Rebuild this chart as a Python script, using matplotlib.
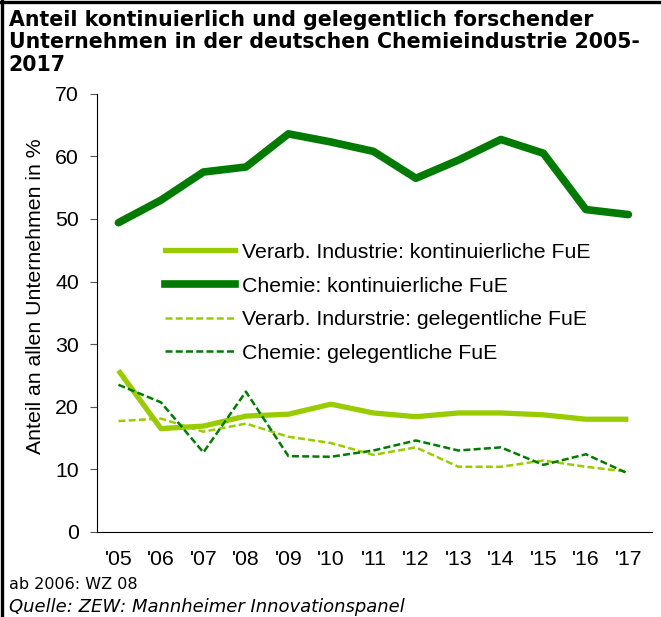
import matplotlib.pyplot as plt
from matplotlib.lines import Line2D

jahre = ["'05", "'06", "'07", "'08", "'09", "'10", "'11", "'12", "'13", "'14", "'15", "'16", "'17"]

verarb_kont = [25.8, 16.5, 16.9, 18.5, 18.8, 20.4, 19.0, 18.4, 19.0, 19.0, 18.7, 18.0, 18.0]
chemie_kont = [49.4, 53.0, 57.5, 58.3, 63.6, 62.3, 60.8, 56.5, 59.4, 62.7, 60.5, 51.5, 50.7]
verarb_geleg = [17.7, 18.1, 16.0, 17.3, 15.2, 14.2, 12.3, 13.5, 10.4, 10.4, 11.4, 10.4, 9.6]
chemie_geleg = [23.5, 20.7, 12.7, 22.4, 12.1, 12.0, 13.0, 14.6, 13.0, 13.5, 10.7, 12.4, 9.3]

hellgruen = '#99CC00'
dunkelgruen = '#007A00'
schrift = 'Liberation Sans'
strich = (0, (2.8, 1.3))

fig = plt.figure(figsize=(6.61, 6.17), dpi=100)
ax = fig.add_axes([0.147, 0.138, 0.839, 0.710])

x = range(len(jahre))
ax.plot(x, verarb_kont, color=hellgruen, lw=3.8, solid_capstyle='butt')
ax.plot(x, chemie_kont, color=dunkelgruen, lw=5.5, solid_capstyle='round')
ax.plot(x, verarb_geleg, color=hellgruen, lw=1.8, ls=strich)
ax.plot(x, chemie_geleg, color=dunkelgruen, lw=1.8, ls=strich)

ax.set_xlim(-0.5, 12.55)
ax.set_ylim(0, 70)
ax.set_yticks(range(0, 71, 10))
ax.set_xticks(list(x))
ax.set_xticklabels(jahre)
ax.tick_params(axis='x', length=0, pad=13, labelsize=15.3)
ax.tick_params(axis='y', length=5, width=0.8, color='#555555', pad=8, labelsize=15.3)
for lab in ax.get_xticklabels() + ax.get_yticklabels():
    lab.set_family(schrift)
ax.spines['top'].set_visible(False)
ax.spines['right'].set_visible(False)
ax.set_ylabel('Anteil an allen Unternehmen in %', family=schrift, fontsize=15.3)
ax.yaxis.set_label_coords(-0.094, 0.537)

handles = [
    Line2D([], [], color=hellgruen, lw=3.8),
    Line2D([], [], color=dunkelgruen, lw=5.5),
    Line2D([], [], color=hellgruen, lw=1.8, ls=strich),
    Line2D([], [], color=dunkelgruen, lw=1.8, ls=strich),
]
labels = ['Verarb. Industrie: kontinuierliche FuE', 'Chemie: kontinuierliche FuE',
          'Verarb. Indurstrie: gelegentliche FuE', 'Chemie: gelegentliche FuE']
ax.legend(handles, labels, loc='upper left', bbox_to_anchor=(0.103, 0.684), frameon=False,
          prop={'family': schrift, 'size': 15.3}, handlelength=3.3,
          handletextpad=0.33, labelspacing=0.69, borderpad=0)

fig.text(0.013, 0.984, 'Anteil kontinuierlich und gelegentlich forschender\n'
         'Unternehmen in der deutschen Chemieindustrie 2005-\n2017',
         fontsize=14.8, fontweight='bold', va='top', ha='left', linespacing=1.15)
fig.text(0.013, 0.045, 'ab 2006: WZ 08', fontsize=11.5, va='baseline')
fig.text(0.013, 0.008, 'Quelle: ZEW: Mannheimer Innovationspanel', fontsize=13,
         style='italic', va='baseline')

# schwarzer Rahmen oben und links
fig.add_artist(Line2D([0, 1], [0.9975, 0.9975], color='black', lw=2.4, transform=fig.transFigure))
fig.add_artist(Line2D([0.0025, 0.0025], [0, 1], color='black', lw=2.4, transform=fig.transFigure))

plt.savefig('out.png', dpi=100)
